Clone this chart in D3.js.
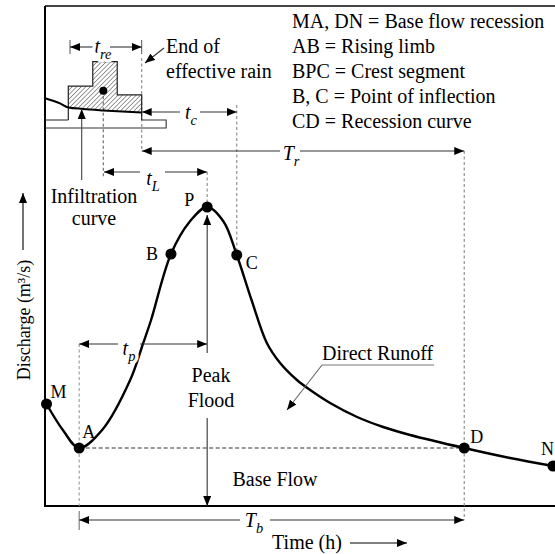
<!DOCTYPE html>
<html><head><meta charset="utf-8">
<script src="https://cdn.jsdelivr.net/npm/d3@7"></script>
<style>
html,body{margin:0;padding:0;background:#fff;}
svg{display:block;}
text{font-family:"Liberation Serif","Times New Roman",serif;fill:#000;}
</style></head>
<body>
<script>
// ---------- data ----------
// hydrograph (time units, discharge units)
const hydroTime = [0.03,0.35,0.67,1.12,1.67,1.92,2.08,2.47,2.84,3.18,3.50,3.76,4.05,4.35,4.61,4.94,5.20,5.59,6.12,6.63,7.16,8.22,9.12,9.96];
const hydroQ    = [2.04,1.52,1.16,1.52,2.52,3.24,3.72,5.04,5.69,5.98,5.69,5.02,4.12,3.26,2.86,2.52,2.32,2.06,1.78,1.58,1.42,1.16,0.96,0.80];
// key points
const pointNames = ["M","A","B","P","C","D","N"];
const pointTime  = [0.03,0.67,2.47,3.18,3.76,8.22,9.96];
const pointQ     = [2.04,1.16,5.04,5.98,5.02,1.16,0.80];
// effective rainfall hyetograph (inset units)
const rainEdges = [0,1,2,3];
const rainIntensity = [5.8,10,4.3];
const rainCentroid = [1.43,5.0];
// infiltration curve (inset units)
const infTime = [-0.95,-0.34,0,0.6,1.43,2.2,3.0];
const infRate = [3.72,2.85,2.15,1.9,1.65,1.45,1.3];
// legend
const legendLines = ["MA, DN = Base flow recession","AB = Rising limb","BPC = Crest segment","B, C = Point of inflection","CD = Recession curve"];

(function(){
// ---------- setup ----------
const W=555,H=554;
const svg=d3.select("body").append("svg").attr("width",W).attr("height",H);
const x=d3.scaleLinear().domain([0,10]).range([45,555]);
const y=d3.scaleLinear().domain([0,10]).range([506,6]);
const ix=d3.scaleLinear().domain([0,3]).range([68.3,141.7]);
const iy=d3.scaleLinear().domain([0,10]).range([120,61.7]);

const defs=svg.append("defs");
defs.append("marker").attr("id","ah").attr("viewBox","0 0 10 8").attr("refX",10).attr("refY",4)
  .attr("markerWidth",10).attr("markerHeight",8).attr("markerUnits","userSpaceOnUse")
  .attr("orient","auto-start-reverse").append("path").attr("d","M0,0L10,4L0,8Z").attr("fill","#000");
const pat=defs.append("pattern").attr("id","hatch").attr("patternUnits","userSpaceOnUse")
  .attr("width",3.2).attr("height",3.2).attr("patternTransform","rotate(45)");
pat.append("line").attr("x1",0).attr("y1",0).attr("x2",0).attr("y2",3.2).attr("stroke","#222").attr("stroke-width",0.9);

function arrow(x1,y1,x2,y2,opts={}){
  const l=svg.append("line").attr("x1",x1).attr("y1",y1).attr("x2",x2).attr("y2",y2)
    .attr("stroke",opts.color||"#333").attr("stroke-width",opts.w||1.1);
  if(opts.end!==false) l.attr("marker-end","url(#ah)");
  if(opts.start) l.attr("marker-start","url(#ah)");
  return l;
}
function dashed(x1,y1,x2,y2,color,dash){
  svg.append("line").attr("x1",x1).attr("y1",y1).attr("x2",x2).attr("y2",y2)
    .attr("stroke",color||"#888").attr("stroke-width",1.1).attr("stroke-dasharray",dash||"3,2.5");
}
function subLabel(cx,by,main,sub,size,halo){
  const t=svg.append("text").attr("x",cx).attr("y",by).attr("text-anchor","middle")
    .style("font-size",size+"px").style("font-style","italic");
  if(halo) t.attr("stroke","#fff").attr("stroke-width",7).attr("paint-order","stroke").attr("stroke-linejoin","round");
  t.append("tspan").text(main);
  t.append("tspan").attr("dy",size*0.3).style("font-size",(size*0.72)+"px").text(sub);
  return t;
}

// ---------- frame ----------
svg.append("line").attr("x1",45).attr("y1",6).attr("x2",555).attr("y2",6).attr("stroke","#444").attr("stroke-width",2);
svg.append("line").attr("x1",x(0)).attr("y1",6).attr("x2",x(0)).attr("y2",y(0)+1).attr("stroke","#000").attr("stroke-width",2);
svg.append("line").attr("x1",x(0)).attr("y1",y(0)).attr("x2",555).attr("y2",y(0)).attr("stroke","#000").attr("stroke-width",2);

// ---------- guide dashed lines ----------
const tA=pointTime[1], tP=pointTime[3], tC=pointTime[4], tD=pointTime[5];
dashed(x(tA),344,x(tA),y(0),"#999");
dashed(x(tD),151,x(tD),520,"#888");
dashed(ix(3),58,ix(3),151,"#888");
dashed(ix(rainCentroid[0]),iy(rainCentroid[1]),ix(rainCentroid[0]),178,"#666");
dashed(x(tP),172,x(tP),y(pointQ[3]),"#888");
dashed(x(tC),105,x(tC),y(pointQ[4]),"#888");
dashed(x(tA),y(pointQ[1]),x(tD),y(pointQ[5]),"#333","4,2.5");

// ---------- inset hyetograph ----------
const infLine=d3.line().x(d=>ix(d[0])).y(d=>iy(d[1])).curve(d3.curveMonotoneX);
const infPts=infTime.map((t,i)=>[t,infRate[i]]);
const infInterp=t=>{
  for(let i=0;i<infTime.length-1;i++){ if(t>=infTime[i]&&t<=infTime[i+1]){const f=(t-infTime[i])/(infTime[i+1]-infTime[i]);return infRate[i]+f*(infRate[i+1]-infRate[i]);}}
  return infRate[infRate.length-1];
};
let upper=[[rainEdges[0],infInterp(rainEdges[0])]];
rainIntensity.forEach((v,i)=>{upper.push([rainEdges[i],v]);upper.push([rainEdges[i+1],v]);});
upper.push([rainEdges[rainEdges.length-1],infInterp(rainEdges[rainEdges.length-1])]);
const insideInf=infPts.filter(p=>p[0]>=0&&p[0]<=3).slice().reverse();
const poly=upper.concat(insideInf);
svg.append("path").attr("d",d3.line().x(d=>ix(d[0])).y(d=>iy(d[1]))(poly)+"Z").attr("fill","url(#hatch)").attr("stroke","none");
let outline=[[rainEdges[0],0]];
rainIntensity.forEach((v,i)=>{outline.push([rainEdges[i],v]);outline.push([rainEdges[i+1],v]);});
outline.push([rainEdges[rainEdges.length-1],0]);
svg.append("path").attr("d",d3.line().x(d=>ix(d[0])).y(d=>iy(d[1]))(outline)).attr("fill","none").attr("stroke","#222").attr("stroke-width",1.2);
svg.append("path").attr("d",d3.line().x(d=>ix(d[0])).y(d=>iy(d[1]))([[-0.95,0],[0,0]])).attr("stroke","#333").attr("stroke-width",1.1);
svg.append("path").attr("d",d3.line().x(d=>ix(d[0])).y(d=>iy(d[1]))([[3,0],[4,0],[4,-1.37],[-0.95,-1.37]])).attr("fill","none").attr("stroke","#333").attr("stroke-width",1.1);
svg.append("path").attr("d",infLine(infPts)).attr("fill","none").attr("stroke","#000").attr("stroke-width",2);
svg.append("circle").attr("cx",ix(rainCentroid[0])).attr("cy",iy(rainCentroid[1])).attr("r",4).attr("fill","#000");

// ---------- hydrograph ----------
const line=d3.line().x((d,i)=>x(hydroTime[i])).y((d,i)=>y(hydroQ[i])).curve(d3.curveCatmullRom.alpha(0.5));
svg.append("path").attr("d",line(hydroTime)).attr("fill","none").attr("stroke","#000").attr("stroke-width",2.4);

// ---------- arrows ----------
svg.append("line").attr("x1",70).attr("y1",40).attr("x2",70).attr("y2",54).attr("stroke","#555");
svg.append("line").attr("x1",ix(3)).attr("y1",40).attr("x2",ix(3)).attr("y2",54).attr("stroke","#555");
arrow(100,47,70,47); arrow(110,47,ix(3),47);
subLabel(103,53,"t","re",20,true);
arrow(164,48,145,63);
arrow(180,112,ix(3),112); arrow(200,112,x(tC),112);
subLabel(191,119,"t","c",20,true);
arrow(280,151,ix(3),151); arrow(300,151,x(tD),151);
subLabel(291,160,"T","r",20,true);
arrow(140,172,104,172); arrow(165,172,x(tP),172);
subLabel(153,185,"t","L",20,true);
arrow(118,344,x(tA),344); arrow(140,344,x(tP),344);
subLabel(129,355,"t","p",20,true);
svg.append("line").attr("x1",x(tA)).attr("y1",511).attr("x2",x(tA)).attr("y2",530).attr("stroke","#666");
arrow(240,520,x(tA),520); arrow(270,520,x(tD),520);
subLabel(254,527,"T","b",20,true);
arrow(x(tP),353,x(tP),y(pointQ[3])+8);
arrow(x(tP),418,x(tP),y(0));
arrow(81.7,180,81.7,109,{color:"#444"});
svg.append("line").attr("x1",322).attr("y1",365).attr("x2",434).attr("y2",365).attr("stroke","#777").attr("stroke-width",1);
arrow(322,365,287,410,{color:"#666"});
arrow(350,543,407,543,{color:"#000"});
arrow(23,250,23,193,{color:"#000"});

// ---------- points ----------
svg.selectAll("circle.pt").data(pointNames).enter().append("circle").attr("class","pt")
  .attr("cx",(d,i)=>x(pointTime[i])).attr("cy",(d,i)=>y(pointQ[i])).attr("r",5.5).attr("fill","#000");
const off={M:[4,-6,"start"],A:[3,-10,"start"],B:[-13,6,"end"],P:[-13,-1,"end"],C:[9,14,"start"],D:[6,-5,"start"],N:[1,-11,"end"]};
svg.selectAll("text.pl").data(pointNames).enter().append("text").attr("class","pl")
  .attr("x",(d,i)=>x(pointTime[i])+off[d][0]).attr("y",(d,i)=>y(pointQ[i])+off[d][1])
  .attr("text-anchor",d=>off[d][2]).style("font-size","18px").text(d=>d);

// ---------- texts ----------
function txt(s,xx,yy,anchor,size){return svg.append("text").attr("x",xx).attr("y",yy).attr("text-anchor",anchor||"start").style("font-size",(size||20)+"px").text(s);}
svg.selectAll("text.lg").data(legendLines).enter().append("text").attr("class","lg")
  .attr("x",292).attr("y",(d,i)=>28+i*25).style("font-size","20px").text(d=>d);
txt("End of",166,53); txt("effective rain",166,78);
txt("Infiltration",94,203,"middle"); txt("curve",94,225,"middle");
txt("Peak",211,382,"middle"); txt("Flood",211,407,"middle");
txt("Direct Runoff",322,360);
txt("Base Flow",275,486,"middle");
txt("Time (h)",307,549,"middle");
svg.append("text").attr("transform","translate(30,320) rotate(-90)").attr("text-anchor","middle").style("font-size","18px").text("Discharge (m³/s)");
})();
</script>
</body></html>
